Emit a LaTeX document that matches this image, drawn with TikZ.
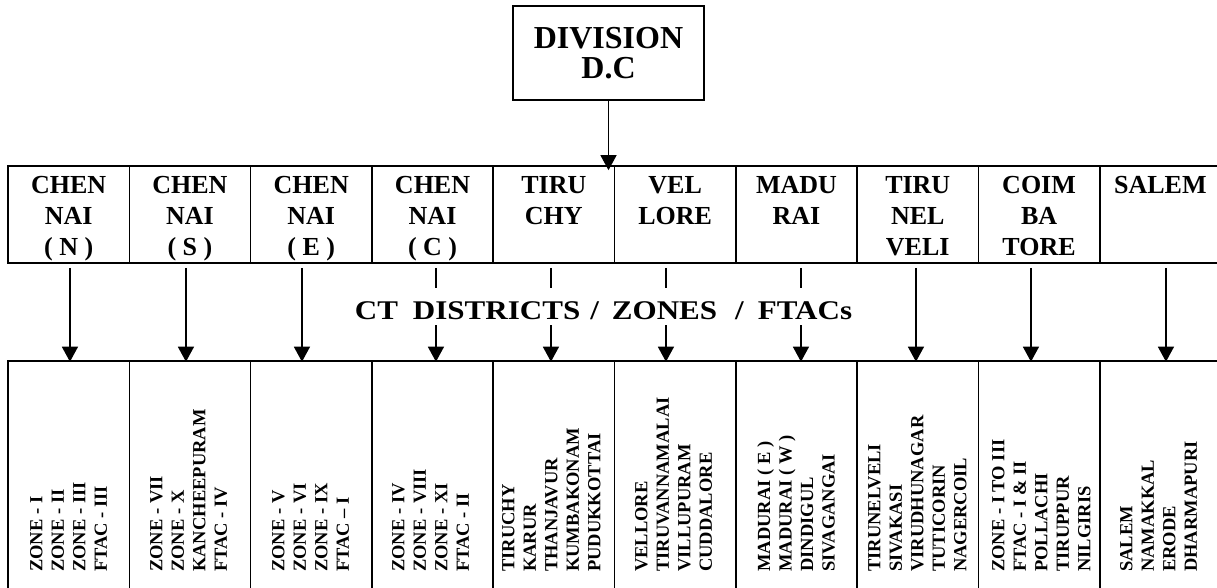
\documentclass[tikz,border=0pt]{standalone}
\usepackage{fontspec}
\setmainfont{Liberation Serif}
\newfontfamily\widefont[FakeStretch=1.15]{Liberation Serif}
\usetikzlibrary{arrows.meta,calc}
\begin{document}
\begin{tikzpicture}[x=1pt,y=-1pt,
  cell/.style={draw,line width=1.6pt,minimum width=121.3pt,inner sep=0pt},
  topcell/.style={cell,minimum height=97pt},
  botcell/.style={cell,minimum height=240pt},
  arr/.style={line width=1.3pt,-{Triangle[width=16pt,length=15pt]}},
  head/.style={font=\bfseries\fontsize{26pt}{31pt}\selectfont,align=center,inner sep=0pt,anchor=north},
  vert/.style={font=\bfseries\fontsize{18.5pt}{21.5pt}\selectfont,align=left,inner sep=0pt,rotate=90,anchor=north west}]
\useasboundingbox (0,0) rectangle (1217,587);
% division box
\node[draw,line width=1.6pt,minimum width=191pt,minimum height=94pt,inner sep=0pt,align=center,
  font=\bfseries\fontsize{32pt}{30pt}\selectfont] (div) at (608.5,53) {DIVISION\\D.C};
% cells
\foreach \i in {1,...,10}{
  \node[topcell] (t\i) at ({8+121.3*(\i-0.5)},214.5) {};
  \node[botcell] (b\i) at ({8+121.3*(\i-0.5)},481) {};
}
% top arrow
\draw[arr,shorten >=-5pt] (div.south) -- (div.south |- t5.north);
% lower arrows
\foreach \i/\dx in {1/1.3,2/-4,3/-9.3,4/3.4,5/-2.9,6/-9.2,7/4.5,8/-1.8,9/-8.1,10/5.6}{
  \draw[arr,shorten >=-1.5pt] ($(t\i.south)+(\dx,4)$) -- ($(b\i.north)+(\dx,0)$);
}
% middle label
\node[fill=white,inner xsep=5pt,inner ysep=0pt,text height=31pt,text depth=6pt,anchor=base,
  font=\widefont\bfseries\fontsize{27pt}{27pt}\selectfont] (mid) at (603.5,319)
  {CT\hspace{15pt}DISTRICTS\hspace{10pt}/\hspace{13pt}ZONES\hspace{18pt}/\hspace{14pt}FTACs};
% top row labels
\node[head] (l1) at (t1.center |- 0,176.5) {CHEN\\NAI\\( N )};
\node[head] (l2) at (t2.center |- 0,176.5) {CHEN\\NAI\\( S )};
\node[head] (l3) at (t3.center |- 0,176.5) {CHEN\\NAI\\( E )};
\node[head] (l4) at (t4.center |- 0,176.5) {CHEN\\NAI\\( C )};
\node[head] (l5) at (t5.center |- 0,176.5) {TIRU\\CHY};
\node[head] (l6) at (t6.center |- 0,176.5) {VEL\\LORE};
\node[head] (l7) at (t7.center |- 0,176.5) {MADU\\RAI};
\node[head] (l8) at (t8.center |- 0,176.5) {TIRU\\NEL\\VELI};
\node[head] (l9) at (t9.center |- 0,176.5) {COIM\\BA\\TORE};
\node[head] (l10) at (t10.center |- 0,176.5) {SALEM};
% bottom row labels
\node[vert] (v1) at (30,572) {ZONE - I\\ZONE - II\\ZONE - III\\FTAC - III};
\node[vert] (v2) at (150,572) {ZONE - VII\\ZONE - X\\KANCHEEPURAM\\FTAC - IV};
\node[vert] (v3) at (272,572) {ZONE - V\\ZONE - VI\\ZONE - IX\\FTAC -- I};
\node[vert] (v4) at (392,572) {ZONE - IV\\ZONE - VIII\\ZONE - XI\\FTAC - II};
\node[vert] (v5) at (502,572) {TIRUCHY\\KARUR\\THANJAVUR\\KUMBAKONAM\\PUDUKKOTTAI};
\node[vert] (v6) at (635,572) {VELLORE\\TIRUVANNAMALAI\\VILLUPURAM\\CUDDALORE};
\node[vert] (v7) at (757,572) {MADURAI ( E )\\MADURAI ( W )\\DINDIGUL\\SIVAGANGAI};
\node[vert] (v8) at (868,572) {TIRUNELVELI\\SIVAKASI\\VIRUDHUNAGAR\\TUTICORIN\\NAGERCOIL};
\node[vert] (v9) at (992,572) {ZONE - I TO III\\FTAC - I \& II\\POLLACHI\\TIRUPPUR\\NILGIRIS};
\node[vert] (v10) at (1120,572) {SALEM\\NAMAKKAL\\ERODE\\DHARMAPURI};
\end{tikzpicture}
\end{document}
